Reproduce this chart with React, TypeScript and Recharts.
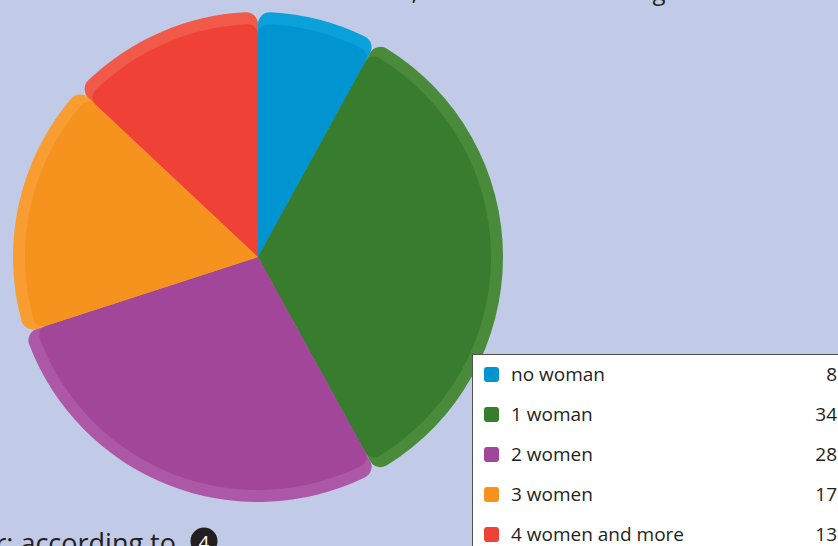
import React from 'react';
import { PieChart, Pie, Cell } from 'recharts';

const categories = ['no woman', '1 woman', '2 women', '3 women', '4 women and more'];
const values = [8, 34, 28, 17, 13];

// main fill and the lighter rim colour of each slice
const colors = ['#0095d1', '#387c2d', '#a2469a', '#f6921e', '#ef4136'];
const rimColors = ['#0aa0da', '#4a8a3b', '#ad58a6', '#f79d32', '#f15a48'];

const bg = '#c1cae7';
const ink = '#231f20';

const data = categories.map((name, i) => ({ name, value: values[i] }));

export default function App() {
  return (
    <div
      style={{
        position: 'absolute',
        left: 0,
        top: 0,
        width: 838,
        height: 546,
        overflow: 'hidden',
        background: bg,
        fontFamily: '"Open Sans", sans-serif',
      }}
    >
      <PieChart
        width={838}
        height={546}
        margin={{ top: 0, right: 0, bottom: 0, left: 0 }}
        style={{ position: 'absolute', left: 0, top: 0 }}
      >
        <Pie
          data={data}
          dataKey="value"
          cx={258}
          cy={257}
          innerRadius={0}
          outerRadius={245}
          startAngle={90}
          endAngle={-270}
          cornerRadius={12}
          stroke="none"
          isAnimationActive={false}
        >
          {data.map((d, i) => (
            <Cell key={d.name} fill={rimColors[i]} />
          ))}
        </Pie>
        <Pie
          data={data}
          dataKey="value"
          cx={258}
          cy={257}
          innerRadius={0}
          outerRadius={233}
          startAngle={90}
          endAngle={-270}
          cornerRadius={10}
          stroke="none"
          isAnimationActive={false}
        >
          {data.map((d, i) => (
            <Cell key={d.name} fill={colors[i]} />
          ))}
        </Pie>
      </PieChart>

      {/* title (cut at the top) and source line (cut at the bottom) */}
      <svg
        width={838}
        height={546}
        style={{ position: 'absolute', left: 0, top: 0, pointerEvents: 'none' }}
        fontFamily='"Open Sans", sans-serif'
      >
        <text x={266} y={0} fontSize={24} fill={ink}>
          Married men, now sorted according to number of wives
        </text>
        <text x={176} y={553} fontSize={27} fill={ink} textAnchor="end">
          r: according to
        </text>
        <circle cx={204} cy={541} r={13.5} fill={ink} />
        <text x={204} y={548.5} fontSize={19} fill="#ffffff" textAnchor="middle">
          4
        </text>
      </svg>

      {/* legend box */}
      <div
        style={{
          position: 'absolute',
          left: 472,
          top: 354,
          width: 400,
          height: 220,
          background: '#ffffff',
          border: '1px solid #505050',
        }}
      >
        {data.map((d, i) => (
          <div
            key={d.name}
            style={{
              position: 'absolute',
              left: 0,
              top: 5 + i * 40,
              width: 364,
              height: 28,
              display: 'flex',
              alignItems: 'center',
              fontSize: 19,
              color: ink,
            }}
          >
            <span
              style={{
                display: 'inline-block',
                width: 15,
                height: 15,
                borderRadius: 3,
                background: colors[i],
                marginLeft: 11,
                marginRight: 12,
              }}
            />
            <span style={{ flex: 1 }}>{d.name}</span>
            <span>{d.value}</span>
          </div>
        ))}
      </div>
    </div>
  );
}
